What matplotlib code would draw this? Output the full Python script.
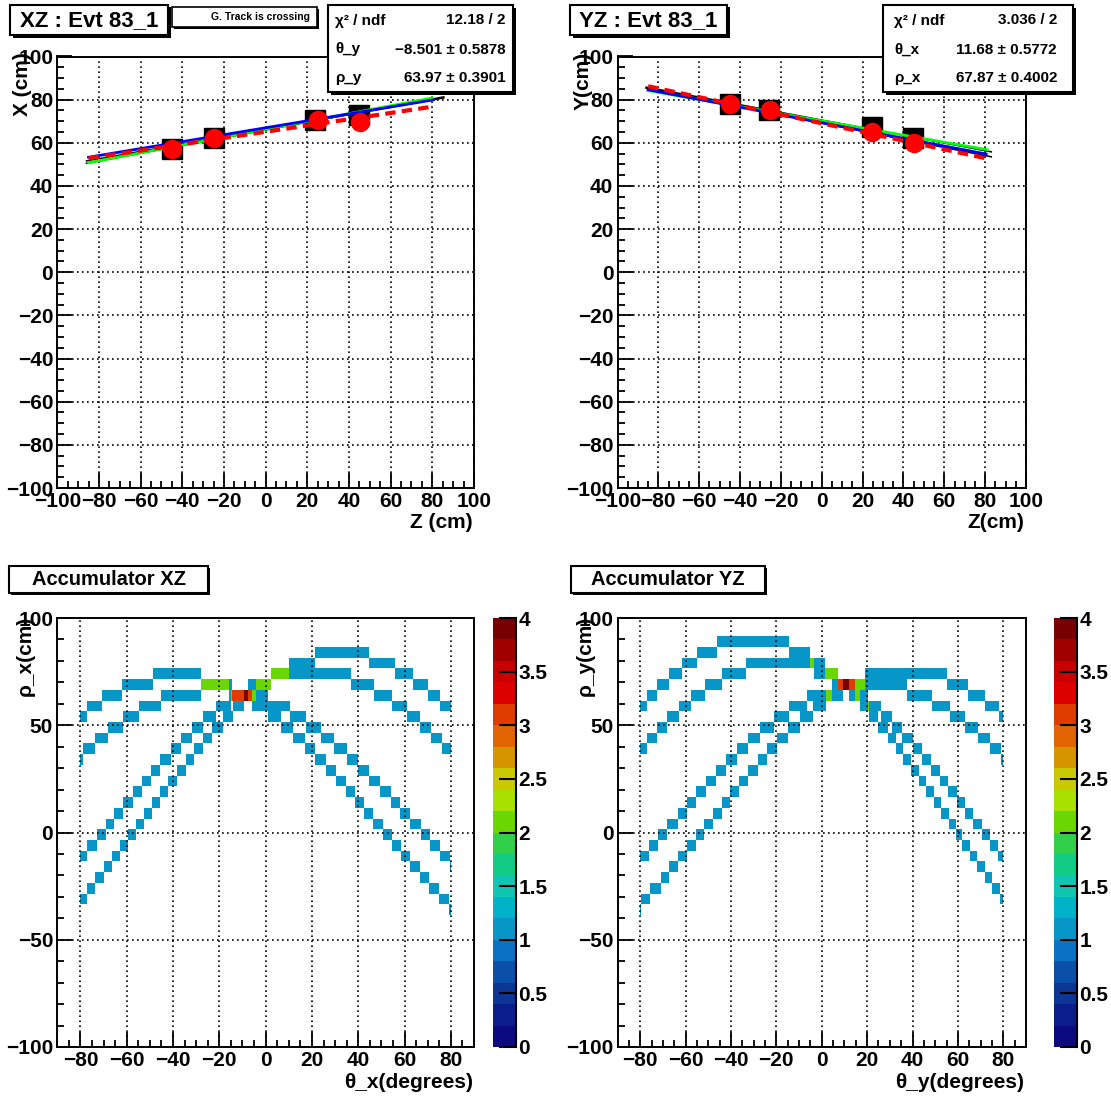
import numpy as np
import matplotlib
matplotlib.use("Agg")
import matplotlib.pyplot as plt
from matplotlib.colors import ListedColormap, BoundaryNorm
from matplotlib.patches import Rectangle
from matplotlib.ticker import MultipleLocator

plt.rcParams['font.family'] = ['Liberation Sans', 'DejaVu Sans']
plt.rcParams['font.weight'] = 'bold'

W, H = 1111, 1097

# ---- data ----
# reconstructed hits (red dots) and raw hits (black squares), z in cm
xz_hit_z = [-45.0, -25.0, 25.3, 45.3]
xz_hit_x = [57.1, 62.0, 70.5, 69.7]
xz_raw_z = [-45.0, -25.0, 23.5, 45.0]
xz_raw_x = [57.1, 62.3, 70.5, 72.8]

yz_hit_z = [-45.0, -25.3, 24.8, 45.2]
yz_hit_y = [77.8, 75.1, 64.8, 60.0]
yz_raw_z = [-45.0, -25.6, 24.8, 44.5]
yz_raw_y = [78.2, 75.4, 67.4, 62.0]

# track lines: (z0, z1), (v0, v1)
xz_lines = {
    "black1": ([-86.0, 85.5], [50.5, 81.3]),
    "black2": ([-86.0, 85.5], [51.6, 80.8]),
    "green": ([-85.0, 80.0], [50.8, 80.8]),
    "blue": ([-85.0, 80.5], [53.3, 79.9]),
    "red": ([-85.0, 80.5], [52.8, 76.8]),
}
yz_lines = {
    "black1": ([-86.0, 83.0], [85.8, 55.8]),
    "black2": ([-86.0, 83.0], [85.3, 53.5]),
    "green": ([-85.0, 81.0], [84.2, 56.8]),
    "blue": ([-85.0, 80.5], [84.6, 54.8]),
    "red": ([-85.0, 80.5], [86.2, 52.8]),
}

xz_stats = [("χ² / ndf", "12.18 / 2"), ("θ_y", "−8.501 ± 0.5878"), ("ρ_y", "63.97 ± 0.3901")]
yz_stats = [("χ² / ndf", "3.036 / 2"), ("θ_x", "11.68 ± 0.5772"), ("ρ_x", "67.87 ± 0.4002")]

# accumulator binning
theta_edges = np.arange(-80.0, 80.01, 0.5)
rho_edges = np.arange(-98.5, 101.6, 5.0)

palette = ["#0c0a7e", "#0c1e8c", "#0c3596", "#0b50a8", "#0a72c4", "#0696c8",
           "#02b2c8", "#10c6b2", "#12cc86", "#32d04a", "#6ad800", "#a8e000",
           "#cac800", "#d69400", "#e06400", "#e03c00", "#dc0000", "#c80000",
           "#a00000", "#780000"]
cmap = ListedColormap(palette)
norm = BoundaryNorm(np.linspace(0, 4, 21), cmap.N, clip=True)

fig = plt.figure(figsize=(W / 100, H / 100), dpi=100)


def add_ax(x0, y0, x1, y1):
    return fig.add_axes([x0 / W, 1 - y1 / H, (x1 - x0) / W, (y1 - y0) / H])


def box(x0, y0, x1, y1, shadow=2.5, lw=1.5):
    fig.patches.append(Rectangle(((x0 + shadow) / W, 1 - (y1 + shadow) / H), (x1 - x0) / W, (y1 - y0) / H,
                                 transform=fig.transFigure, facecolor="black", edgecolor="none", zorder=5))
    fig.patches.append(Rectangle((x0 / W, 1 - y1 / H), (x1 - x0) / W, (y1 - y0) / H,
                                 transform=fig.transFigure, facecolor="white", edgecolor="black", lw=lw, zorder=6))


def ftext(x, y, s, **kw):
    kw.setdefault("zorder", 7)
    fig.text(x / W, 1 - y / H, s, **kw)


def style(ax, xmaj, xmin, ymaj, ymin):
    ax.xaxis.set_major_locator(MultipleLocator(xmaj))
    ax.xaxis.set_minor_locator(MultipleLocator(xmin))
    ax.yaxis.set_major_locator(MultipleLocator(ymaj))
    ax.yaxis.set_minor_locator(MultipleLocator(ymin))
    ax.tick_params(which="both", direction="in", top=False, right=False, width=1.3, labelsize=15, pad=3)
    ax.tick_params(which="major", length=11)
    ax.tick_params(which="minor", length=5)
    for s in ax.spines.values():
        s.set_linewidth(1.4)
    ax.grid(True, which="major", color="black", linestyle=(0, (1, 2)), linewidth=1.2)
    ax.set_axisbelow(False)
    for lab in ax.get_xticklabels() + ax.get_yticklabels():
        lab.set_fontweight("bold")


def track_panel(ax, hz, hv, rz, rv, lines):
    ax.set_xlim(-100, 100)
    ax.set_ylim(-100, 100)
    style(ax, 20, 5, 20, 5)
    ax.plot(rz, rv, "s", color="black", ms=15, zorder=3)
    ax.plot(*lines["black1"], color="black", lw=1.1, zorder=4)
    ax.plot(*lines["black2"], color="black", lw=1.1, zorder=4)
    ax.plot(*lines["green"], color="#00ff00", lw=2.0, zorder=4)
    ax.plot(*lines["blue"], color="#0000ff", lw=2.0, zorder=4)
    ax.plot(*lines["red"], color="#ff0000", lw=3.0, linestyle=(0, (2.5, 1.5)), zorder=4)
    ax.plot(hz, hv, "o", color="#ff0000", ms=13, mec="#ff0000", zorder=5)


def accumulator(ax, cax, hz, hv):
    t = 0.5 * (theta_edges[:-1] + theta_edges[1:])
    tr = np.deg2rad(t)
    th_all, rho_all = [], []
    for z, v in zip(hz, hv):
        th_all.append(t)
        rho_all.append(v * np.cos(tr) + z * np.sin(tr))
    counts, _, _ = np.histogram2d(np.concatenate(th_all), np.concatenate(rho_all),
                                  bins=[theta_edges, rho_edges])
    counts = np.ma.masked_equal(counts.T, 0)
    mesh = ax.pcolormesh(theta_edges, rho_edges, counts, cmap=cmap, norm=norm,
                         edgecolors="none", zorder=1)
    ax.set_xlim(-90, 90)
    ax.set_ylim(-100, 100)
    style(ax, 20, 5, 50, 10)
    cb = fig.colorbar(mesh, cax=cax, ticks=np.arange(0, 4.01, 0.5))
    cb.outline.set_visible(False)
    cax.yaxis.set_ticks_position("right")
    cax.tick_params(direction="in", length=12, width=1.5, labelsize=15, pad=2)
    cax.minorticks_off()
    cax.set_yticklabels(["%g" % v for v in np.arange(0, 4.01, 0.5)], fontweight="bold")
    cax.plot([1, 1], [0, 1], transform=cax.transAxes, color="black", lw=1.5, clip_on=False)


# top panels
ax1 = add_ax(57.3, 56.5, 474, 488)
track_panel(ax1, xz_hit_z, xz_hit_x, xz_raw_z, xz_raw_x, xz_lines)
ax2 = add_ax(617.5, 56.5, 1026, 488)
track_panel(ax2, yz_hit_z, yz_hit_y, yz_raw_z, yz_raw_y, yz_lines)

# bottom panels
ax3 = add_ax(57.3, 618, 474, 1047)
cax3 = add_ax(492.7, 618, 515.7, 1047)
accumulator(ax3, cax3, xz_hit_z, xz_hit_x)
ax4 = add_ax(617.5, 618, 1026, 1047)
cax4 = add_ax(1054, 618, 1076.7, 1047)
accumulator(ax4, cax4, yz_hit_z, yz_hit_y)

# axis titles
ftext(23, 52, "X (cm)", rotation=90, ha="center", va="top", fontsize=15)
ftext(583, 52, "Y(cm)", rotation=90, ha="center", va="top", fontsize=15)
ftext(473, 522, "Z (cm)", ha="right", va="center", fontsize=15)
ftext(1024, 522, "Z(cm)", ha="right", va="center", fontsize=15)
ftext(25, 616, "ρ_x(cm)", rotation=90, ha="center", va="top", fontsize=15)
ftext(585, 616, "ρ_y(cm)", rotation=90, ha="center", va="top", fontsize=15)
ftext(473, 1083, "θ_x(degrees)", ha="right", va="center", fontsize=15)
ftext(1024, 1083, "θ_y(degrees)", ha="right", va="center", fontsize=15)

# title boxes
box(10, 5, 168, 35)
ftext(89, 20.5, "XZ : Evt 83_1", ha="center", va="center", fontsize=16)
box(570, 5, 727, 35)
ftext(648.5, 20.5, "YZ : Evt 83_1", ha="center", va="center", fontsize=16)
box(172, 7, 317, 27, shadow=2, lw=1.2)
ftext(310, 17, "G. Track is crossing", ha="right", va="center", fontsize=7.5)
box(9, 566, 208, 593, shadow=2)
ftext(108.5, 579.5, "Accumulator XZ", ha="center", va="center", fontsize=14.5)
box(571, 566, 765, 593, shadow=2)
ftext(668, 579.5, "Accumulator YZ", ha="center", va="center", fontsize=14.5)

# stats boxes
box(328, 5, 513, 92)
for (lab, val), y in zip(xz_stats, [20.5, 49.5, 78]):
    ftext(335, y, lab, ha="left", va="center", fontsize=11)
    ftext(506, y, val, ha="right", va="center", fontsize=11)
box(883, 5, 1073, 92)
for (lab, val), y in zip(yz_stats, [20.5, 49.5, 78]):
    ftext(894, y, lab, ha="left", va="center", fontsize=11)
    ftext(1057, y, val, ha="right", va="center", fontsize=11)

fig.savefig("out.png", dpi=100)
